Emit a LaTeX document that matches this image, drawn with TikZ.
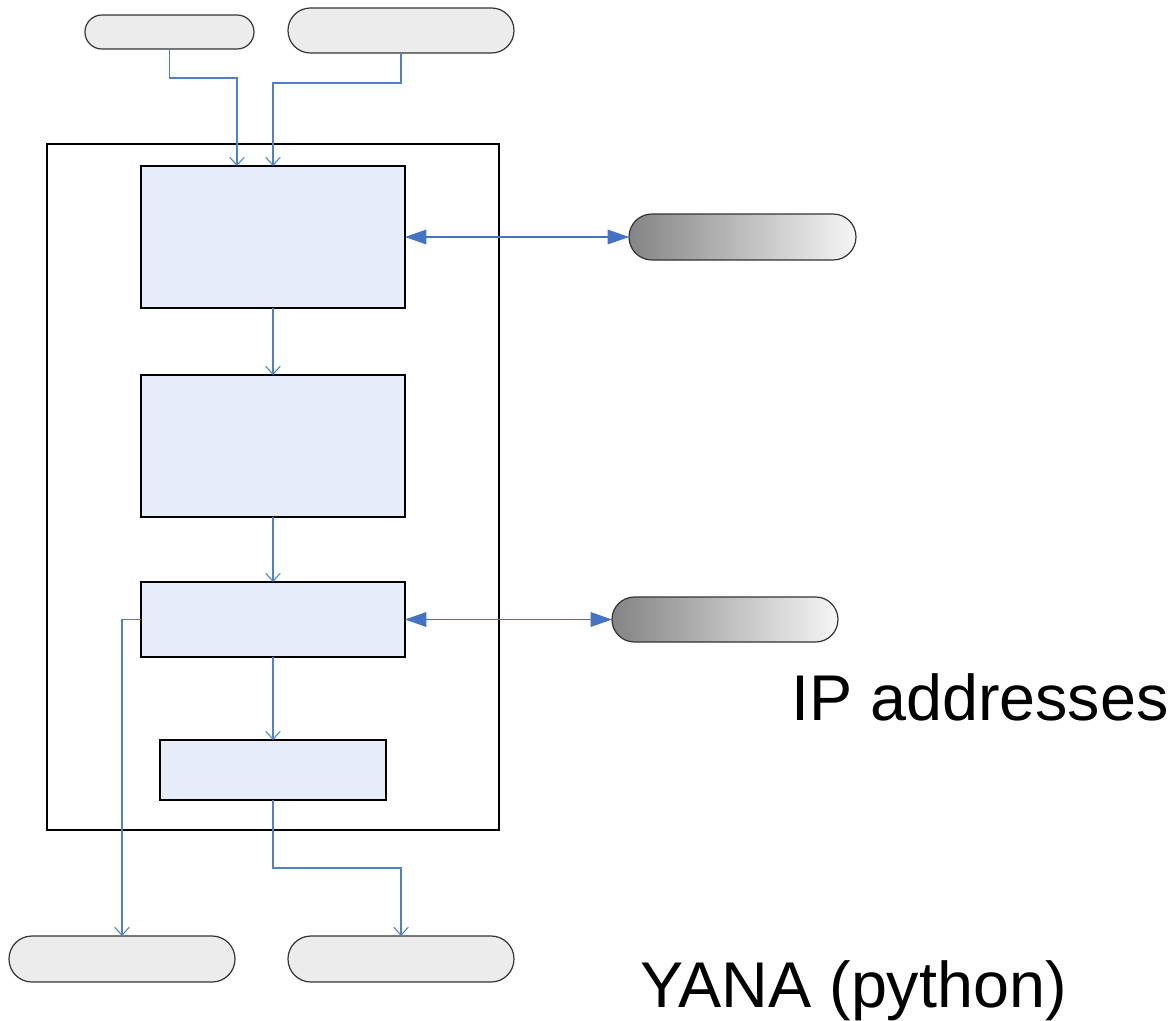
\documentclass[tikz,border=0pt]{standalone}
\usepackage{fontspec}
\setmainfont{Liberation Sans}
\usetikzlibrary{arrows.meta,calc}
\definecolor{boxfill}{RGB}{230,237,248}
\definecolor{conn}{RGB}{79,129,200}
\definecolor{dbl}{RGB}{68,114,196}
\definecolor{hatch}{RGB}{236,236,236}
\definecolor{gdark}{RGB}{132,132,132}
\definecolor{glight}{RGB}{246,246,246}
\tikzset{
  sz/.style 2 args={minimum width=#1*0.75pt, minimum height=#2*0.75pt, inner sep=0pt, outer sep=0pt},
  pill/.style={draw=black!80, line width=0.9pt, rounded corners=#1*0.75pt},
  hpill/.style={pill=#1, fill=hatch},
  gpill/.style={pill=#1, left color=gdark, right color=glight},
  stage/.style={draw=black, line width=1.1pt, fill=boxfill},
  frame/.style={draw=black, line width=0.8pt},
  cline/.style={draw=conn, line width=0.8pt, -{Straight Barb[length=6pt,width=11pt]}},
  dline/.style={draw=dbl, line width=0.8pt, {Triangle[length=16pt,width=11pt]}-{Triangle[length=16pt,width=11pt]}},
  big/.style={inner sep=0pt, anchor=base west, font=\fontsize{48.5}{58}\selectfont}
}
\begin{document}
\begin{tikzpicture}[x=0.75pt,y=-0.75pt]
\useasboundingbox (0,0) rectangle (1168,1021);
\node[frame, sz={452}{686}] (outer) at (273,487) {};
\node[hpill=16.9, sz={169}{34}] (p1) at (169.5,32) {};
\node[hpill=22.4, sz={226}{45}] (p2) at (401,30.5) {};
\node[stage, sz={264}{142}] (b1) at (273,237) {};
\node[stage, sz={264}{142}] (b2) at (273,446) {};
\node[stage, sz={264}{75}] (b3) at (273,619.5) {};
\node[stage, sz={226}{60}] (b4) at (273,770) {};
\node[gpill=22.9, sz={227}{46}] (g1) at (742.5,237) {};
\node[gpill=22.4, sz={226}{45}] (g2) at (725,619.5) {};
\node[hpill=22.9, sz={226}{46}] (q1) at (122,959) {};
\node[hpill=22.9, sz={226}{46}] (q2) at (401,959) {};
\node[big] (t1) at (791,720) {IP addresses};
\node[big] (t2) at (640,1007) {YANA (python)};
% connectors
\draw[cline] (p1.south) -- ++(0,29) -| ([xshift=-27pt]b1.north);
\draw[cline] (p2.south) -- ++(0,30) -| (b1.north);
\draw[cline] (b1.south) -- (b2.north);
\draw[cline] (b2.south) -- (b3.north);
\draw[cline] (b3.south) -- (b4.north);
\draw[cline] (b4.south) -- ++(0,68) -| (q2.north);
\draw[cline] (b3.west) -| (q1.north);
\draw[dline] (b1.east) -- (g1.west);
\draw[dline] (b3.east) -- (g2.west);
\end{tikzpicture}
\end{document}
